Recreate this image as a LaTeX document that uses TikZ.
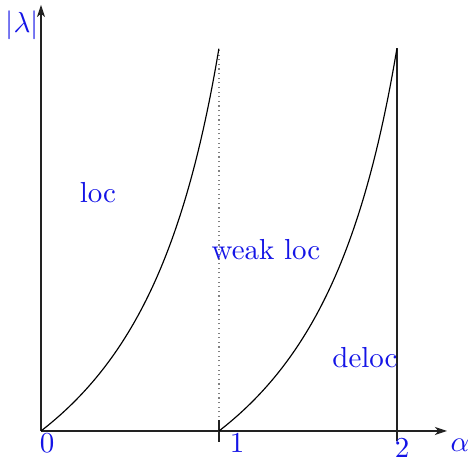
\documentclass[tikz,border=0pt]{standalone}
\usepackage{tikz}
\usepackage{xcolor}
\usetikzlibrary{arrows.meta}
\definecolor{lblblue}{HTML}{1414E6}
\definecolor{axisgrey}{HTML}{222222}
\tikzset{
  axis/.style  ={draw=axisgrey, line width=0.4pt,
                 -{Stealth[length=4.2pt, width=2.8pt, inset=1.2pt]}},
  curve/.style ={draw=black, line width=0.4pt},
  tick/.style  ={draw=axisgrey, line width=0.5pt},
  border/.style={draw=gray, line width=0.4pt, dash pattern=on 0.4pt off 1.2pt},
  lbl/.style   ={text=lblblue, inner sep=1pt},
}

\begin{document}
\begin{tikzpicture}[x=0.3453pt, y=0.3453pt]
\useasboundingbox (-41,-28) rectangle (431,431);

% ------------------------------------------------------------- axes
\coordinate (O) at (0,0);
\coordinate (xend) at (406,0);
\coordinate (yend) at (0,426);
\draw[axis] (O) -- (xend);
\draw[axis] (O) -- (yend);

% ------------------------------------------------------------- boundaries
\coordinate (onetop) at (178,383);
\coordinate (onelow) at (178,-11);
\coordinate (onehigh) at (178,11);
\coordinate (twotop) at (356,383);
\coordinate (twolow) at (356,-10);
\draw[border] (178,0) -- (onetop);
\draw[tick] (onelow) -- (onehigh);
\draw[tick] (twolow) -- (twotop);

\foreach \s in {0,178} {
  \draw[curve] plot[domain=0:1, samples=80, smooth]
    ({\s+178*\x}, {383*0.36*\x/(1-0.64*\x)});
}

% ------------------------------------------------------------- labels
\node[lbl] (lambda) at (-19,406) {$|\lambda|$};
\node[lbl] (alpha) at (419,-14) {$\alpha$};
\foreach \n/\xx/\yy in {zero/6/-12, one/196/-12, two/361/-17} {
  \node[lbl] (\n) at (\xx,\yy) {};
}
\node[lbl] at (zero) {0};
\node[lbl] at (one) {1};
\node[lbl] at (two) {2};

\node[lbl] (loc) at (57,238) {loc};
\node[lbl] (weak) at (225,181) {weak loc};
\node[lbl] (deloc) at (324,73) {deloc};

\end{tikzpicture}
\end{document}
